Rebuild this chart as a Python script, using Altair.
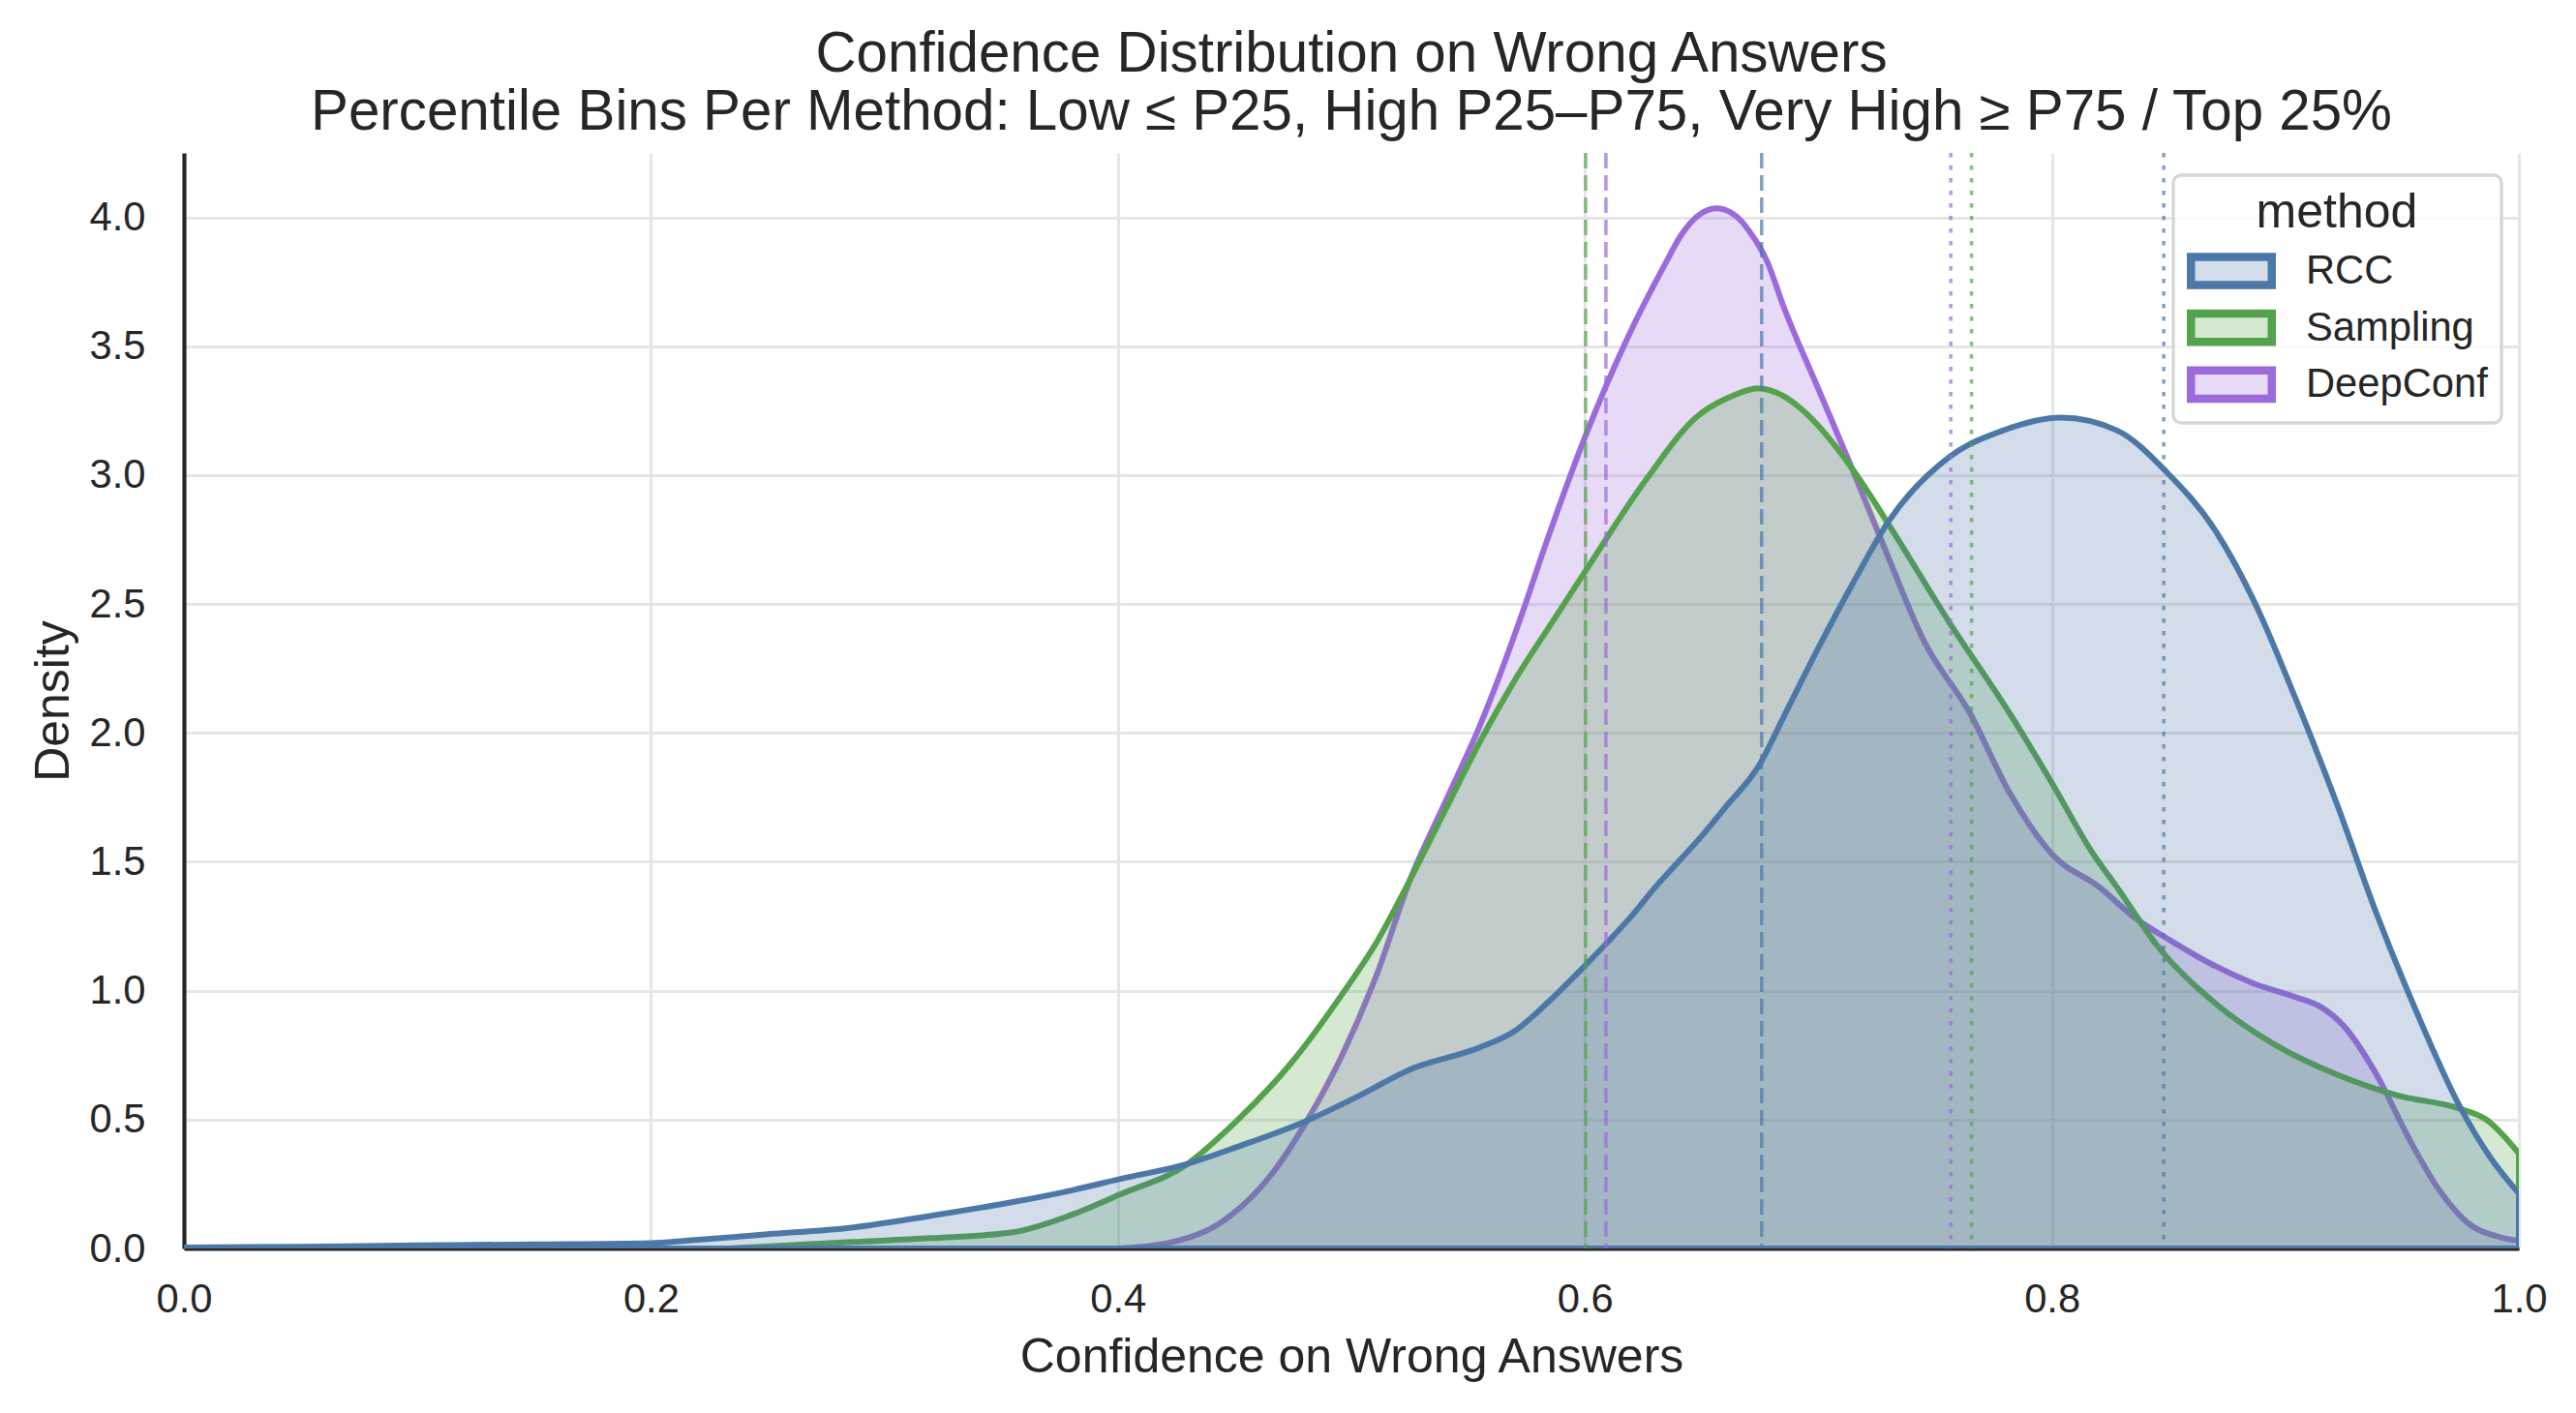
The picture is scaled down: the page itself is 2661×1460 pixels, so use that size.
import altair as alt
import pandas as pd

# ---------------- data ----------------
methods = ["RCC", "Sampling", "DeepConf"]

rcc_x = [0.0, 0.05, 0.10, 0.15, 0.20, 0.216, 0.25, 0.286, 0.32, 0.355, 0.38, 0.401,
         0.429, 0.451, 0.481, 0.503, 0.525, 0.555, 0.57, 0.585, 0.60, 0.61, 0.62,
         0.63, 0.64, 0.65, 0.66, 0.675, 0.685, 0.70, 0.715, 0.73, 0.756, 0.779,
         0.804, 0.828, 0.849, 0.87, 0.887, 0.904, 0.922, 0.939, 0.957, 0.974,
         0.988, 1.0]
rcc_y = [0.004, 0.007, 0.012, 0.016, 0.021, 0.031, 0.055, 0.081, 0.127, 0.18, 0.225,
         0.27, 0.326, 0.394, 0.496, 0.591, 0.694, 0.78, 0.844, 0.962, 1.097, 1.191,
         1.29, 1.40, 1.50, 1.60, 1.71, 1.88, 2.06, 2.33, 2.584, 2.82, 3.07, 3.173,
         3.223, 3.173, 3.013, 2.785, 2.503, 2.141, 1.726, 1.30, 0.90, 0.563, 0.35,
         0.213]

samp_x = [0.233, 0.286, 0.32, 0.355, 0.38, 0.401, 0.429, 0.451, 0.474, 0.496, 0.511,
          0.525, 0.540, 0.555, 0.57, 0.586, 0.60, 0.626, 0.648, 0.663, 0.674, 0.685,
          0.693, 0.715, 0.73, 0.756, 0.782, 0.80, 0.817, 0.828, 0.845, 0.87, 0.896,
          0.922, 0.948, 0.974, 0.986, 1.0]
samp_y = [0.0, 0.025, 0.04, 0.063, 0.13, 0.21, 0.323, 0.496, 0.717, 0.986, 1.191,
          1.428, 1.697, 1.965, 2.205, 2.43, 2.625, 2.98, 3.227, 3.307, 3.337, 3.307,
          3.254, 3.019, 2.81, 2.43, 2.075, 1.806, 1.54, 1.40, 1.176, 0.951, 0.788,
          0.675, 0.594, 0.544, 0.50, 0.369]

deep_x = [0.40, 0.422, 0.444, 0.466, 0.481, 0.496, 0.511, 0.525, 0.540, 0.555, 0.573,
          0.582, 0.60, 0.617, 0.635, 0.641, 0.648, 0.6565, 0.665, 0.6705, 0.678, 0.685,
          0.70, 0.715, 0.73, 0.745, 0.765, 0.782, 0.80, 0.8206, 0.8345, 0.852, 0.869,
          0.887, 0.904, 0.915, 0.925, 0.939, 0.953, 0.966, 0.978, 0.992, 1.0]
deep_y = [0.0, 0.022, 0.10, 0.29, 0.496, 0.749, 1.066, 1.428, 1.728, 2.028, 2.46,
          2.70, 3.147, 3.508, 3.83, 3.928, 4.003, 4.035, 4.003, 3.945, 3.83, 3.656,
          3.334, 3.013, 2.68, 2.36, 2.075, 1.766, 1.53, 1.40, 1.29, 1.188, 1.10,
          1.026, 0.976, 0.938, 0.863, 0.675, 0.425, 0.225, 0.10, 0.044, 0.03]

p25 = [0.6757, 0.6003, 0.609]
p75 = [0.8479, 0.7656, 0.7567]

x_ticks = [0.0, 0.2, 0.4, 0.6, 0.8, 1.0]
y_ticks = [0.0, 0.5, 1.0, 1.5, 2.0, 2.5, 3.0, 3.5, 4.0]

title_lines = ["Confidence Distribution on Wrong Answers",
               "Percentile Bins Per Method: Low \u2264 P25, High P25\u2013P75, Very High \u2265 P75 / Top 25%"]

# ---------------- tables ----------------
rows = []
for m, xs, ys in [("RCC", rcc_x, rcc_y), ("Sampling", samp_x, samp_y), ("DeepConf", deep_x, deep_y)]:
    for a, b in zip(xs, ys):
        rows.append({"method": m, "x": a, "density": b})
df = pd.DataFrame(rows)
pct = pd.DataFrame({"method": methods, "p25": p25, "p75": p75})

FONT = "Liberation Sans"
TXT = "#262626"
colors = ["#4c78a8", "#54a24b", "#9b6adb"]
light = ["#d3dde9", "#d4e8d2", "#e6daf6"]   # the same colours at 25 % over white
sscale = alt.Scale(domain=methods, range=colors)
cscale = alt.Scale(domain=methods, range=colors)
lscale = alt.Scale(domain=methods, range=light)

legend = alt.Legend(
    title="method", orient="none", legendX=2055, legendY=23, direction="vertical",
    symbolType="M-1,-0.35H1V0.35H-1Z", symbolSize=6972, symbolStrokeWidth=8.5,
    symbolOpacity=1, labelLimit=600,
    labelFontSize=41.7, labelFont=FONT, labelColor=TXT, labelOffset=31,
    titleFontSize=50, titleFont=FONT, titleColor=TXT, titleFontWeight="normal",
    titleAnchor="middle", titlePadding=10, padding=14, rowPadding=8.7, clipHeight=50,
    fillColor="rgba(255,255,255,0.8)", strokeColor="#d6d6d6", cornerRadius=8,
)

xaxis = alt.Axis(values=x_ticks, format=".1f", title="Confidence on Wrong Answers")
xscale = alt.Scale(domain=[0, 1], nice=False, zero=False)
yenc = alt.Y("density:Q", scale=alt.Scale(domain=[0, 4.25], nice=False),
             axis=alt.Axis(values=y_ticks, format=".1f", title="Density"))


def area(m):
    return alt.Chart(df).transform_filter(alt.datum.method == m).mark_area(
        fillOpacity=0.25, strokeWidth=6, interpolate="monotone", clip=True,
        strokeJoin="round"
    ).encode(
        x=alt.X("x:Q", scale=xscale, axis=xaxis), y=yenc,
        color=alt.Color("method:N", scale=cscale, legend=None),
        stroke=alt.Stroke("method:N", scale=sscale, legend=None),
    )


# invisible (zero-size, off-view) layer that only carries the legend: light fill + strong edge
leg = alt.Chart(pct).mark_rect(clip=True).encode(
    x=alt.X("p25:Q", scale=xscale, axis=xaxis),
    x2=alt.X2("p25:Q"),
    y=alt.value(-500),
    y2=alt.value(-499),
    fill=alt.Fill("method:N", scale=lscale, legend=legend),
    stroke=alt.Stroke("method:N", scale=sscale, legend=legend),
)

r25 = alt.Chart(pct).mark_rule(strokeDash=[16, 7], strokeWidth=3.5, opacity=0.7).encode(
    x=alt.X("p25:Q", scale=xscale, axis=xaxis),
    stroke=alt.Stroke("method:N", scale=sscale, legend=None),
)
r75 = alt.Chart(pct).mark_rule(strokeDash=[4.5, 8.5], strokeWidth=3.5, opacity=0.7).encode(
    x=alt.X("p75:Q", scale=xscale, axis=xaxis),
    stroke=alt.Stroke("method:N", scale=sscale, legend=None),
)

chart = alt.layer(leg, area("DeepConf"), area("Sampling"), area("RCC"), r25, r75).properties(
    width=2412, height=1132,
    padding={"left": 190, "top": 158, "right": 59, "bottom": 170},
    autosize=alt.AutoSizeParams(type="none"),
    title=alt.Title(text=title_lines),
    background="white",
).configure_view(strokeWidth=0).configure_axis(
    domainColor=TXT, domainWidth=4.2, ticks=False, grid=True,
    gridColor="#e6e6e6", gridWidth=3, labelFlush=False,
    labelFont=FONT, labelFontSize=41.7, labelColor=TXT,
    titleFont=FONT, titleFontSize=50, titleFontWeight="normal", titleColor=TXT,
).configure_axisX(labelPadding=32, titlePadding=14).configure_axisY(
    labelPadding=40, titlePadding=12
).configure_title(
    font=FONT, fontSize=58.3, fontWeight="normal", color=TXT, anchor="middle",
    lineHeight=60, offset=10,
).configure_legend(strokeWidth=3.3)

chart.save("out.html", embed_options={"renderer": "svg", "actions": False})
